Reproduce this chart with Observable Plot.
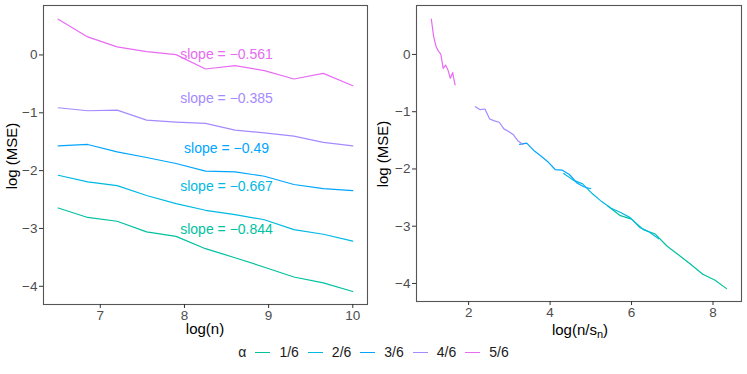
<!DOCTYPE html>
<html>
<head>
<meta charset="utf-8">
<script src="https://cdn.jsdelivr.net/npm/d3@7"></script>
<script src="https://cdn.jsdelivr.net/npm/@observablehq/plot@0.6"></script>
<style>
  html, body { margin: 0; padding: 0; background: white; }
  body { width: 747px; height: 374px; overflow: hidden; font-family: "Liberation Sans", Arial, sans-serif; }
  #wrap { position: relative; width: 747px; height: 374px; }
  #left { position: absolute; left: 0; top: 0; }
  #right { position: absolute; left: 370px; top: 0; }
  #legend { position: absolute; left: 0; top: 342px; width: 747px; height: 20px;
            display: flex; justify-content: center; align-items: center; font-size: 14px; color: #1a1a1a; }
  #legend .sw { display: inline-block; width: 15px; height: 0; border-top: 1.3px solid; margin: 0 9px; }
  #legend .ttl { margin-right: 0; }
</style>
</head>
<body>
<div id="wrap">
  <div id="left"></div>
  <div id="right"></div>
  <div id="legend"></div>
</div>
<script>
// ---- data ----
const logn = [6.5, 6.85, 7.2, 7.55, 7.9, 8.25, 8.6, 8.95, 9.3, 9.65, 10];
const alphaLabels = ["1/6", "2/6", "3/6", "4/6", "5/6"];
const alphaValues = [1/6, 2/6, 3/6, 4/6, 5/6];
const colors = ["#00C19F", "#00B9E3", "#00A5FF", "#A58AFF", "#E76BF3"];
const mse_1_6 = [-2.646, -2.81, -2.876, -3.06, -3.137, -3.35, -3.506, -3.67, -3.84, -3.94, -4.09];
const mse_2_6 = [-2.08, -2.195, -2.26, -2.43, -2.57, -2.686, -2.76, -2.85, -3.02, -3.10, -3.22];
const mse_3_6 = [-1.572, -1.548, -1.676, -1.773, -1.877, -2.01, -2.022, -2.097, -2.24, -2.31, -2.345];
const mse_4_6 = [-0.913, -0.965, -0.953, -1.127, -1.161, -1.184, -1.30, -1.346, -1.404, -1.513, -1.572];
const mse_5_6 = [0.619, 0.312, 0.139, 0.058, 0.005, -0.243, -0.185, -0.27, -0.416, -0.318, -0.532];
const slopeText = ["slope = \u22120.844", "slope = \u22120.667", "slope = \u22120.49", "slope = \u22120.385", "slope = \u22120.561"];
const slopeY = [-3.01, -2.27, -1.61, -0.76, 0.0];
const slopeX = [8.5, 8.5, 8.5, 8.5, 8.5];
const xTicksLeft = [7, 8, 9, 10];
const xTicksRight = [2, 4, 6, 8];
const yTicks = [-4, -3, -2, -1, 0];

const mseSeries = [mse_1_6, mse_2_6, mse_3_6, mse_4_6, mse_5_6];
const rows = [];
alphaLabels.forEach((a, i) => {
  logn.forEach((x, j) => {
    rows.push({alpha: a, logn: x, lognsn: (1 - alphaValues[i]) * x, mse: mseSeries[i][j]});
  });
});
const labels = alphaLabels.map((a, i) => ({alpha: a, x: slopeX[i], y: slopeY[i], text: slopeText[i]}));

const font = "'Liberation Sans', Arial, sans-serif";
const fmt = d => d < 0 ? "\u2212" + Math.abs(d) : String(d);

function panel(opts) {
  return Plot.plot({
    width: opts.width, height: 340,
    marginLeft: opts.ml, marginRight: opts.mr, marginTop: 5, marginBottom: opts.mb,
    style: {fontFamily: font, fontSize: "13.5px", background: "white", overflow: "visible"},
    x: {domain: opts.xdom},
    y: {domain: [-4.315, 0.855]},
    color: {domain: alphaLabels, range: colors},
    marks: [
      Plot.frame({stroke: "#555", strokeWidth: 1.1}),
      Plot.axisX({ticks: opts.xticks, tickSize: 4, tickPadding: 2, label: null, tickFormat: fmt, fill: "#4d4d4d", stroke: "#333"}),
      Plot.axisY({ticks: yTicks, tickSize: 4, tickPadding: 2, label: null, tickFormat: fmt, fill: "#4d4d4d", stroke: "#333"}),
      Plot.line(rows, {x: opts.xkey, y: "mse", z: "alpha", stroke: "alpha", strokeWidth: 1.2}),
      ...(opts.labels ? [Plot.text(labels, {x: "x", y: "y", text: "text", fill: "alpha", fontSize: 14})] : [])
    ]
  });
}

const left = panel({width: 370, ml: 43, mr: 3, mb: 36, xdom: [6.325, 10.175], xticks: xTicksLeft, xkey: "logn", labels: true});
const right = panel({width: 377, ml: 46, mr: 6, mb: 39, xdom: [0.72, 8.70], xticks: xTicksRight, xkey: "lognsn", labels: false});
document.getElementById("left").appendChild(left);
document.getElementById("right").appendChild(right);

// axis titles
function yTitle(svg, x, cy) {
  d3.select(svg).append("text")
    .attr("transform", `translate(${x},${cy}) rotate(-90)`)
    .attr("text-anchor", "middle").attr("dy", "0.35em")
    .attr("font-family", font).attr("font-size", 15).attr("fill", "black")
    .text("log (MSE)");
}
yTitle(left, 12, 156);
yTitle(right, 13, 154);
d3.select(left).append("text")
  .attr("x", 205).attr("y", 334).attr("text-anchor", "middle")
  .attr("font-family", font).attr("font-size", 15).attr("fill", "black")
  .text("log(n)");
const rt = d3.select(right).append("text")
  .attr("x", 210).attr("y", 334.5).attr("text-anchor", "middle")
  .attr("font-family", font).attr("font-size", 15).attr("fill", "black");
rt.append("tspan").text("log(n/s");
rt.append("tspan").attr("font-size", 11).attr("dy", 3.5).text("n");
rt.append("tspan").attr("dy", -3.5).text(")");

// legend
const lg = d3.select("#legend");
lg.append("span").attr("class", "ttl").text("\u03b1");
alphaLabels.forEach((a, i) => {
  lg.append("span").attr("class", "sw").style("border-top-color", colors[i]);
  lg.append("span").text(a);
});
</script>
</body>
</html>
